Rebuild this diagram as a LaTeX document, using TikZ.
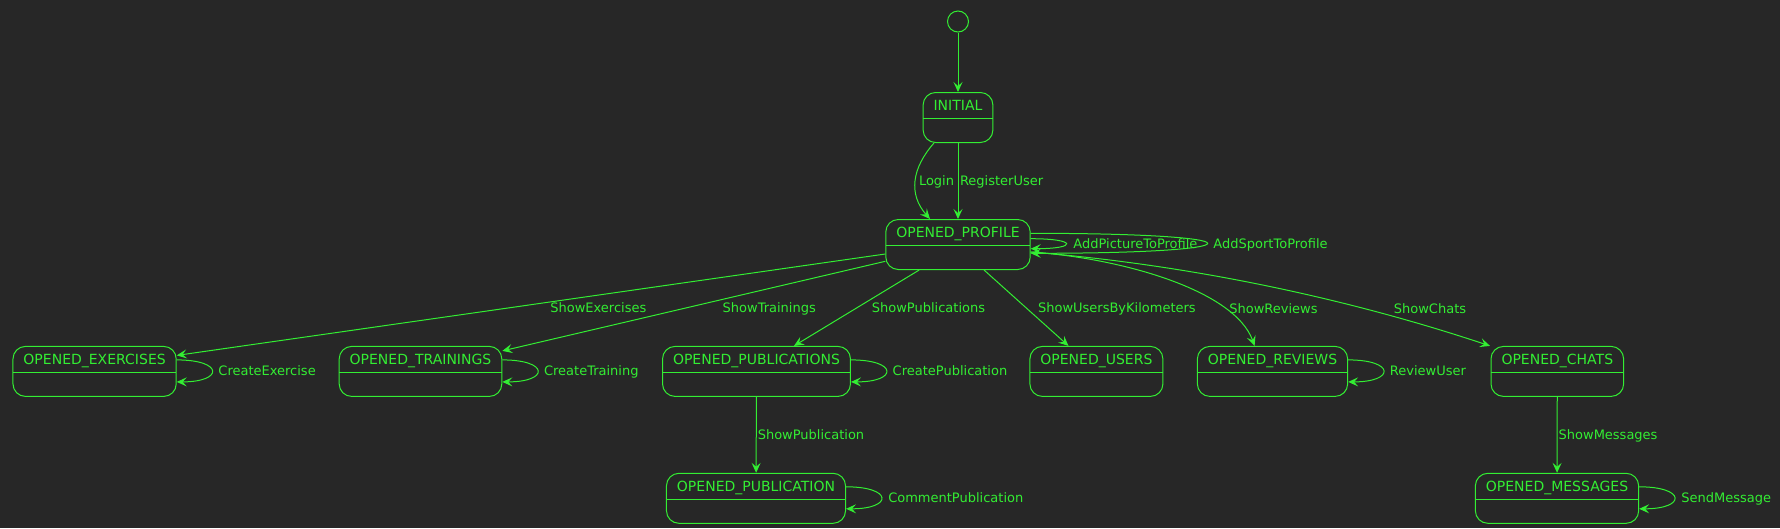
\documentclass[tikz,border=0pt]{standalone}
\usepackage{fontspec}
\setmainfont{DejaVu Sans}
\usepackage{xcolor}
\usetikzlibrary{arrows.meta}
\definecolor{bg}{HTML}{272727}
\definecolor{fg}{HTML}{33EE33}
\tikzset{every picture/.style={line width=1pt}}
\begin{document}
\begin{tikzpicture}[x=1pt,y=-1pt,>={Stealth[length=10pt,width=9pt,inset=4pt]},
  state/.style={draw=fg,rounded corners=12.5pt,text=fg,inner xsep=10.5pt,inner ysep=0pt,
    text height=17.8pt,text depth=32.2pt,font=\fontsize{14}{16}\selectfont,
    path picture={\draw[fg] ([yshift=-26pt]path picture bounding box.north west) -- ([yshift=-26pt]path picture bounding box.north east);}},
  lbl/.style={text=fg,inner sep=0pt,text height=9.6pt,text depth=0pt,font=\fontsize{13}{15}\selectfont},
  tr/.style={draw=fg,->}]
  \useasboundingbox (0,0) rectangle (1780,528);
  \fill[bg] (0,0) rectangle (1780,528);
  \node[circle,draw=fg,minimum size=21pt,inner sep=0pt] (start) at (958,21.5) {};
  \node[state] (initial) at (958,117.5) {INITIAL};
  \node[state] (profile) at (958,244.5) {OPENED\_PROFILE};
  \node[state] (exercises) at (94.6,371.4) {OPENED\_EXERCISES};
  \node[state] (trainings) at (420.5,371.4) {OPENED\_TRAININGS};
  \node[state] (publications) at (756.5,371.4) {OPENED\_PUBLICATIONS};
  \node[state] (users) at (1096.4,371.4) {OPENED\_USERS};
  \node[state] (reviews) at (1272.5,371.4) {OPENED\_REVIEWS};
  \node[state] (chats) at (1557.3,371.4) {OPENED\_CHATS};
  \node[state] (publication) at (756,498.3) {OPENED\_PUBLICATION};
  \node[state] (messages) at (1557,498.3) {OPENED\_MESSAGES};

  \draw[tr] (start) -- (initial);
  \draw[tr] ([xshift=-24pt]initial.south) .. controls +(-22,25) and +(-22,-25) .. ([xshift=-28pt]profile.north)
    node[lbl,pos=0.5,anchor=west,xshift=3pt] {Login};
  \draw[tr] (initial) -- (profile) node[lbl,midway,anchor=west,xshift=1.5pt] {RegisterUser};
  \draw[tr] ([yshift=5.8pt]profile.east) .. controls +(47,0) and +(47,0) .. ([yshift=-4.2pt]profile.east)
    node[lbl,pos=0.5,anchor=west,xshift=7pt] {AddPictureToProfile};
  \draw[tr] ([yshift=11.2pt]profile.east) .. controls +(235,0) and +(235,0) .. ([yshift=-8.8pt]profile.east)
    node[lbl,pos=0.5,anchor=west,xshift=6pt] {AddSportToProfile};

  \draw[tr] ([yshift=-9.5pt]profile.west) -- ([yshift=16pt]exercises.east)
    node[lbl,pos=0.405,yshift=-12.7pt] {ShowExercises};
  \draw[tr] ([yshift=-16.8pt]profile.west) -- ([yshift=20.5pt]trainings.east)
    node[lbl,pos=0.303,yshift=-19.3pt] {ShowTrainings};
  \draw[tr] ([xshift=-38.8pt]profile.south) -- ([xshift=37.5pt]publications.north)
    node[lbl,midway,anchor=west,xshift=14.8pt] {ShowPublications};
  \draw[tr] ([xshift=26pt]profile.south) -- ([xshift=-27.9pt]users.north)
    node[lbl,midway,anchor=west,xshift=11.3pt] {ShowUsersByKilometers};
  \draw[tr] ([yshift=-7.5pt]profile.east) .. controls +(90,6) and +(-20,-56) .. ([xshift=-17.9pt]reviews.north)
    node[lbl,pos=0.75,anchor=west,xshift=5pt] {ShowReviews};
  \draw[tr] ([yshift=-7.5pt]profile.east) .. controls +(151,12) and +(-150,-50) .. ([xshift=-67.3pt]chats.north)
    node[lbl,pos=0.72,anchor=west,xshift=31pt] {ShowChats};

  \draw[tr] ([yshift=11.5pt]exercises.east) .. controls +(47,0) and +(47,0) .. ([yshift=-10.5pt]exercises.east)
    node[lbl,pos=0.5,anchor=west,xshift=6pt] {CreateExercise};
  \draw[tr] ([yshift=11.5pt]trainings.east) .. controls +(47,0) and +(47,0) .. ([yshift=-10.5pt]trainings.east)
    node[lbl,pos=0.5,anchor=west,xshift=6pt] {CreateTraining};
  \draw[tr] ([yshift=11.5pt]publications.east) .. controls +(47,0) and +(47,0) .. ([yshift=-10.5pt]publications.east)
    node[lbl,pos=0.5,anchor=west,xshift=6pt] {CreatePublication};
  \draw[tr] ([yshift=11.5pt]reviews.east) .. controls +(47,0) and +(47,0) .. ([yshift=-10.5pt]reviews.east)
    node[lbl,pos=0.5,anchor=west,xshift=6pt] {ReviewUser};
  \draw[tr] ([yshift=11.5pt]publication.east) .. controls +(47,0) and +(47,0) .. ([yshift=-10.5pt]publication.east)
    node[lbl,pos=0.5,anchor=west,xshift=6.5pt] {CommentPublication};
  \draw[tr] ([yshift=11.5pt]messages.east) .. controls +(47,0) and +(47,0) .. ([yshift=-10.5pt]messages.east)
    node[lbl,pos=0.5,anchor=west,xshift=6.5pt] {SendMessage};

  \draw[tr] (publications) -- (publication) node[lbl,midway,anchor=west,xshift=1pt] {ShowPublication};
  \draw[tr] (chats) -- (messages) node[lbl,midway,anchor=west,xshift=1pt] {ShowMessages};
\end{tikzpicture}
\end{document}
